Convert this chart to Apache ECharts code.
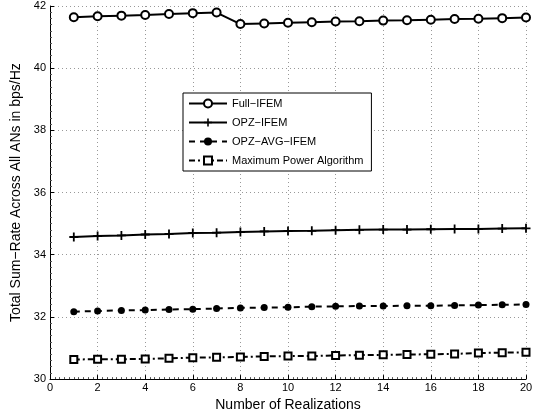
<!DOCTYPE html>
<html>
<head>
<meta charset="utf-8">
<script src="https://cdn.jsdelivr.net/npm/echarts@6/dist/echarts.min.js"></script>
<style>
  html, body { margin: 0; padding: 0; background: #fff; }
  #chart { width: 537px; height: 417px; }
</style>
</head>
<body>
<div id="chart"></div>
<script>
const realizations = [1, 2, 3, 4, 5, 6, 7, 8, 9, 10, 11, 12, 13, 14, 15, 16, 17, 18, 19, 20];
const fullIfem = [41.64, 41.67, 41.69, 41.71, 41.74, 41.77, 41.79, 41.42, 41.44, 41.46,
                  41.48, 41.50, 41.51, 41.53, 41.54, 41.56, 41.58, 41.59, 41.61, 41.63];
const opzIfem = [34.57, 34.60, 34.62, 34.65, 34.67, 34.70, 34.71, 34.73, 34.75, 34.76,
                 34.77, 34.79, 34.80, 34.81, 34.81, 34.82, 34.83, 34.83, 34.84, 34.85];
const opzAvgIfem = [32.17, 32.19, 32.21, 32.22, 32.24, 32.25, 32.27, 32.29, 32.30, 32.31,
                    32.33, 32.34, 32.35, 32.35, 32.36, 32.36, 32.37, 32.38, 32.39, 32.40];
const maxPower = [30.63, 30.64, 30.64, 30.65, 30.67, 30.69, 30.70, 30.71, 30.73, 30.74,
                  30.74, 30.76, 30.77, 30.78, 30.79, 30.80, 30.81, 30.84, 30.85, 30.86];
const seriesNames = ['Full\u2212IFEM', 'OPZ\u2212IFEM', 'OPZ\u2212AVG\u2212IFEM', 'Maximum Power Algorithm'];

const pair = vals => realizations.map((r, i) => [r, vals[i]]);
const plusPath = 'path://M4,0H6V4H10V6H6V10H4V6H0V4H4Z';
const font = 'Liberation Sans, Arial, sans-serif';

const chart = echarts.init(document.getElementById('chart'));

const axisCommon = {
    axisLine: { show: true, lineStyle: { color: '#000', width: 1 } },
    axisTick: { show: true, inside: true, length: 4, lineStyle: { color: '#000' } },
    minorTick: { show: true, splitNumber: 10, length: 2, lineStyle: { color: '#555' } },
    axisLabel: { color: '#000', fontSize: 11, fontFamily: font },
    splitLine: { show: true, lineStyle: { color: '#999', type: [1, 3], width: 1 } },
    nameLocation: 'middle',
    nameTextStyle: { color: '#000', fontSize: 14, fontFamily: font }
};

chart.setOption({
    animation: false,
    backgroundColor: '#fff',
    grid: { left: 50, right: 11, top: 6, bottom: 34 },
    xAxis: Object.assign({}, axisCommon, {
        type: 'value', min: 0, max: 20, interval: 2,
        name: 'Number of Realizations', nameGap: 16,
        axisLabel: Object.assign({}, axisCommon.axisLabel, { margin: 3 })
    }),
    yAxis: Object.assign({}, axisCommon, {
        type: 'value', min: 30, max: 42, interval: 2,
        name: 'Total Sum\u2212Rate Across All ANs in bps/Hz', nameGap: 17,
        axisLabel: Object.assign({}, axisCommon.axisLabel, { margin: 4 })
    }),
    legend: {
        orient: 'vertical',
        left: 183, top: 93,
        width: 197,
        padding: [5, 8, 5, 5],
        itemGap: 8,
        itemWidth: 38,
        itemHeight: 10,
        backgroundColor: '#fff',
        borderColor: '#000',
        borderWidth: 1,
        borderRadius: 0,
        textStyle: { color: '#000', fontSize: 11, fontFamily: font },
        data: seriesNames
    },
    series: [
        {
            name: seriesNames[0], type: 'line', data: pair(fullIfem),
            symbol: 'emptyCircle', symbolSize: 8,
            lineStyle: { color: '#000', width: 2 },
            itemStyle: { color: '#000', borderWidth: 2 }
        },
        {
            name: seriesNames[1], type: 'line', data: pair(opzIfem),
            symbol: plusPath, symbolSize: 9,
            lineStyle: { color: '#000', width: 2 },
            itemStyle: { color: '#000' }
        },
        {
            name: seriesNames[2], type: 'line', data: pair(opzAvgIfem),
            symbol: 'circle', symbolSize: 7,
            lineStyle: { color: '#000', width: 2, type: [6, 5] },
            itemStyle: { color: '#000' }
        },
        {
            name: seriesNames[3], type: 'line', data: pair(maxPower),
            symbol: 'emptyRect', symbolSize: 7,
            lineStyle: { color: '#000', width: 2, type: [6, 3, 2, 3] },
            itemStyle: { color: '#000', borderWidth: 2 }
        }
    ]
});
</script>
</body>
</html>
